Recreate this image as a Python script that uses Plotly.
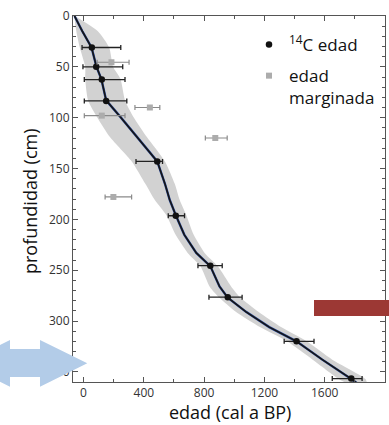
import plotly.graph_objects as go

# ---- data ----
model_depth = [0, 15, 31, 50, 62, 83, 99, 119, 143, 165, 181, 196, 215, 233, 246, 266, 277, 291, 306, 320, 338, 357, 362]
model_age = [-60, -8, 53, 86, 118, 150, 243, 352, 489, 540, 572, 612, 668, 748, 841, 902, 957, 1078, 1232, 1413, 1584, 1776, 1822]
band_lo = [-62, -48, -25, 11, 11, 30, 88, 175, 320, 410, 473, 550, 610, 691, 775, 836, 900, 1010, 1170, 1350, 1520, 1694, 1760]
band_hi = [-58, 95, 170, 196, 245, 275, 330, 420, 540, 605, 638, 682, 730, 803, 890, 979, 1040, 1160, 1310, 1480, 1650, 1870, 1880]

c14_depth = [31, 50, 62.5, 83.5, 143, 196.5, 245.6, 276.6, 320, 356.6]
c14_age = [55, 84, 121, 150, 489, 612, 841, 957, 1413, 1776]
c14_err_minus = [65, 88, 116, 145, 141, 50, 82, 125, 82, 126]
c14_err_plus = [192, 176, 154, 137, 35, 58, 79, 95, 116, 72]

marg_depth = [45.5, 90, 98, 120, 178]
marg_age = [185, 440, 121, 874, 198]
marg_err_minus = [95, 99, 116, 66, 55]
marg_err_plus = [117, 66, 154, 79, 121]

x_ticks = [0, 400, 800, 1200, 1600, 2000]
y_ticks = [0, 50, 100, 150, 200, 250, 300, 350]

FONT = "Open Sans"

fig = go.Figure()

# confidence band
fig.add_trace(go.Scatter(
    x=band_lo + band_hi[::-1], y=model_depth + model_depth[::-1],
    fill="toself", fillcolor="#d2d2d2", line=dict(width=0, shape="spline", smoothing=0.6),
    mode="lines", showlegend=False, hoverinfo="skip"))

# model lines
fig.add_trace(go.Scatter(x=model_age, y=model_depth, mode="lines",
                         line=dict(color="#2b4c9e", width=2.4), showlegend=False))
fig.add_trace(go.Scatter(x=model_age, y=model_depth, mode="lines",
                         line=dict(color="#151515", width=1.6), showlegend=False))

# 14C ages
fig.add_trace(go.Scatter(
    x=c14_age, y=c14_depth, mode="markers",
    marker=dict(symbol="circle", size=6.5, color="#111111"),
    error_x=dict(type="data", symmetric=False, array=c14_err_plus,
                 arrayminus=c14_err_minus, color="#222222", thickness=1.3, width=2.5),
    name="<sup style='font-size:10px'>14</sup>C edad", legendgroup="a"))

# marginal ages
fig.add_trace(go.Scatter(
    x=marg_age, y=marg_depth, mode="markers",
    marker=dict(symbol="square", size=6, color="#acacac"),
    error_x=dict(type="data", symmetric=False, array=marg_err_plus,
                 arrayminus=marg_err_minus, color="#8a8a8a", thickness=1.2, width=2.5),
    name="edad<br>marginada", legendgroup="b"))

L, R, T, B = 73, 385, 16, 382
def px_x(p):
    return (p - L) / (R - L)
def px_y(p):
    return (B - p) / (B - T)

shapes = []
# red bar
shapes.append(dict(type="rect", xref="paper", yref="paper",
                   x0=px_x(314), x1=px_x(392), y0=px_y(316), y1=px_y(300),
                   fillcolor="#9c3834", line=dict(width=0), layer="above"))
# light blue double arrow
pts = [(-37, 363.3), (10, 340), (10, 349), (40, 349), (40, 340), (87.3, 363.3),
       (40, 386.7), (40, 377), (10, 377), (10, 386.7)]
path = "M " + " L ".join(f"{px_x(a):.4f},{px_y(b):.4f}" for a, b in pts) + " Z"
shapes.append(dict(type="path", xref="paper", yref="paper", path=path,
                   fillcolor="#b3cce8", line=dict(width=0), layer="above"))

fig.update_layout(
    width=389, height=425,
    margin=dict(l=L, r=389 - R, t=T, b=425 - B),
    paper_bgcolor="white", plot_bgcolor="white",
    font=dict(family=FONT, color="#222"),
    shapes=shapes,
    legend=dict(x=px_x(249), y=px_y(27), xanchor="left", yanchor="top",
                font=dict(size=17, family=FONT, color="#111"),
                bgcolor="rgba(0,0,0,0)", valign="top",
                traceorder="grouped", tracegroupgap=6),
    annotations=[
        dict(text="edad (cal a BP)", xref="paper", yref="paper",
             x=px_x(230), y=px_y(412), xanchor="center", yanchor="middle",
             showarrow=False, font=dict(size=18, family=FONT, color="#111")),
        dict(text="profundidad (cm)", xref="paper", yref="paper",
             x=px_x(30), y=px_y(201), xanchor="center", yanchor="middle",
             textangle=-90, showarrow=False,
             font=dict(size=18, family=FONT, color="#111")),
    ],
)

fig.update_xaxes(range=[-70, 2000], tickvals=x_ticks, ticks="inside", ticklen=5,
                 tickcolor="#555", showline=True, linecolor="#555", linewidth=1,
                 mirror="ticks", showgrid=False, zeroline=False,
                 tickfont=dict(size=12, family=FONT, color="#333"),
                 minor=dict(dtick=200, tick0=0, ticks="inside", ticklen=3, tickcolor="#555"))
fig.update_yaxes(range=[360, 0], tickvals=y_ticks, ticks="inside", ticklen=5,
                 tickcolor="#555", showline=True, linecolor="#555", linewidth=1,
                 mirror="ticks", showgrid=False, zeroline=False,
                 tickfont=dict(size=12, family=FONT, color="#333"),
                 minor=dict(dtick=10, tick0=0, ticks="inside", ticklen=3, tickcolor="#555"))

fig.write_html("out.html")
